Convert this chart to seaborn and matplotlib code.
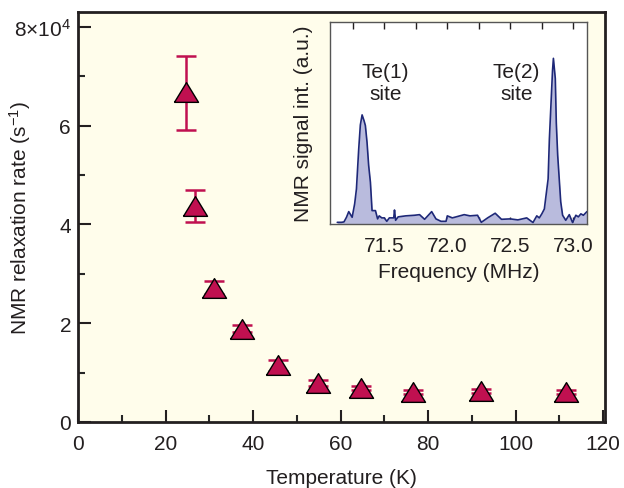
import matplotlib
matplotlib.use('Agg')
import matplotlib.pyplot as plt
import seaborn as sns
import pandas as pd
from matplotlib.ticker import MultipleLocator, FixedLocator

# Main data: NMR relaxation rate vs temperature
temperature = [24.7, 26.7, 31.0, 37.5, 45.7, 54.9, 64.7, 76.6, 92.0, 111.5]
rate = [6.68e4, 4.37e4, 2.72e4, 1.88e4, 1.16e4, 0.79e4, 0.68e4, 0.60e4, 0.62e4, 0.60e4]
rate_low = [5.91e4, 4.05e4, 2.60e4, 1.82e4, 1.04e4, 0.73e4, 0.64e4, 0.57e4, 0.59e4, 0.57e4]
rate_high = [7.41e4, 4.70e4, 2.86e4, 1.96e4, 1.25e4, 0.86e4, 0.72e4, 0.64e4, 0.66e4, 0.64e4]

x_ticks = [0, 20, 40, 60, 80, 100, 120]
y_ticks = [0, 2e4, 4e4, 6e4, 8e4]
y_tick_labels = ['0', '2', '4', '6', r'8×10$^{4}$']

# Inset data: NMR spectrum
freq = [71.127, 71.16, 71.18, 71.20, 71.218, 71.245, 71.265, 71.279, 71.297, 71.31,
        71.324, 71.34, 71.35, 71.363, 71.376, 71.39, 71.403, 71.43, 71.447, 71.46,
        71.48, 71.50, 71.52, 71.54, 71.575, 71.581, 71.59, 71.61, 71.67, 71.74,
        71.78, 71.82, 71.876, 71.91, 71.95, 71.99, 72.0, 72.04, 72.07, 72.134,
        72.18, 72.24, 72.27, 72.32, 72.38, 72.43, 72.50, 72.56, 72.63, 72.68,
        72.71, 72.73, 72.75, 72.77, 72.78, 72.80, 72.81, 72.835, 72.842, 72.857,
        72.865, 72.876, 72.90, 72.915, 72.94, 72.968, 72.994, 73.02, 73.04, 73.06,
        73.08, 73.108]
signal = [0.008, 0.008, 0.010, 0.033, 0.061, 0.033, 0.10, 0.173, 0.37, 0.49,
          0.54, 0.51, 0.487, 0.405, 0.29, 0.206, 0.066, 0.066, 0.025, 0.04,
          0.03, 0.03, 0.013, 0.03, 0.03, 0.069, 0.018, 0.035, 0.04, 0.043,
          0.046, 0.023, 0.061, 0.025, 0.013, 0.013, 0.04, 0.03, 0.035, 0.046,
          0.04, 0.043, 0.008, 0.03, 0.053, 0.023, 0.025, 0.02, 0.03, 0.007,
          0.04, 0.03, 0.05, 0.074, 0.124, 0.223, 0.42, 0.76, 0.82, 0.72,
          0.50, 0.34, 0.11, 0.043, 0.018, 0.046, 0.007, 0.043, 0.035, 0.05,
          0.043, 0.061]
inset_ticks = [71.5, 72.0, 72.5, 73.0]
site_labels = ['Te(1)\nsite', 'Te(2)\nsite']
site_pos = [71.51, 72.55]

sns.set_theme(style='ticks')
plt.rcParams['font.family'] = ['Liberation Sans', 'DejaVu Sans']
plt.rcParams['mathtext.fontset'] = 'custom'
plt.rcParams['mathtext.rm'] = 'Liberation Sans'
plt.rcParams['mathtext.it'] = 'Liberation Sans:italic'
plt.rcParams['mathtext.default'] = 'regular'

FS = 15
TXT = '#231f20'
MAROON = '#C01050'

fig = plt.figure(figsize=(6.24, 4.89), dpi=100)
ax = fig.add_axes([0.125, 0.135, 0.845, 0.838])
ax.set_facecolor('#FFFDEB')

df = pd.DataFrame({'T': temperature, 'rate': rate})
yerr = [[r - lo for r, lo in zip(rate, rate_low)], [hi - r for r, hi in zip(rate, rate_high)]]
ax.errorbar(temperature, rate, yerr=yerr, fmt='none', ecolor=MAROON,
            elinewidth=1.8, capsize=7.5, capthick=1.8, zorder=2)
tri = [(-1, -0.82), (1, -0.82), (0, 0.82), (-1, -0.82)]
sns.scatterplot(data=df, x='T', y='rate', marker=tri, s=300, color=MAROON,
                edgecolor='black', linewidth=1.0, ax=ax, zorder=3, legend=False)

ax.set_xlim(0, 120.5)
ax.set_ylim(0, 8.3e4)
ax.xaxis.set_major_locator(FixedLocator(x_ticks))
ax.xaxis.set_minor_locator(MultipleLocator(10))
ax.yaxis.set_major_locator(FixedLocator(y_ticks))
ax.set_yticklabels(y_tick_labels)
ax.yaxis.set_minor_locator(MultipleLocator(1e4))
ax.tick_params(which='major', direction='in', length=9, width=1.5, labelsize=FS,
               colors=TXT, pad=5)
ax.tick_params(which='minor', direction='in', length=5, width=1.5)
ax.tick_params(axis='x', which='major', pad=9)
for s in ax.spines.values():
    s.set_linewidth(2.0)
    s.set_color(TXT)
ax.set_xlabel('Temperature (K)', fontsize=FS, color=TXT)
ax.set_ylabel('NMR relaxation rate (s$^{-1}$)', fontsize=FS, color=TXT)
ax.xaxis.set_label_coords(0.5, -0.112)
ax.yaxis.set_label_coords(-0.085, 0.5)

# Inset
ins = fig.add_axes([0.529, 0.540, 0.412, 0.413])
ins.set_facecolor('white')
sdf = pd.DataFrame({'freq': freq, 'signal': signal})
ins.fill_between(freq, signal, 0, color='#B9BBDD', lw=0)
sns.lineplot(data=sdf, x='freq', y='signal', color='#1E2878', lw=1.2, ax=ins)
ins.set_xlim(71.07, 73.11)
ins.set_ylim(0, 1.0)
ins.xaxis.set_major_locator(FixedLocator(inset_ticks))
ins.xaxis.set_minor_locator(MultipleLocator(0.25))
ins.set_yticks([])
ins.tick_params(axis='x', which='both', direction='in', top=True, bottom=True,
                length=5, width=1.0, labelsize=FS, colors=TXT, pad=9)
for s in ins.spines.values():
    s.set_linewidth(1.0)
    s.set_color('#555555')
ins.set_xlabel('Frequency (MHz)', fontsize=FS, color=TXT)
ins.set_ylabel('NMR signal int. (a.u.)', fontsize=FS, color=TXT)
ins.xaxis.set_label_coords(0.5, -0.188)
ins.yaxis.set_label_coords(-0.066, 0.5)
for lab, xp in zip(site_labels, site_pos):
    ins.text(xp, 0.70, lab, ha='center', va='center', fontsize=FS,
             color=TXT, linespacing=1.15)

fig.savefig('out.png', dpi=100)
